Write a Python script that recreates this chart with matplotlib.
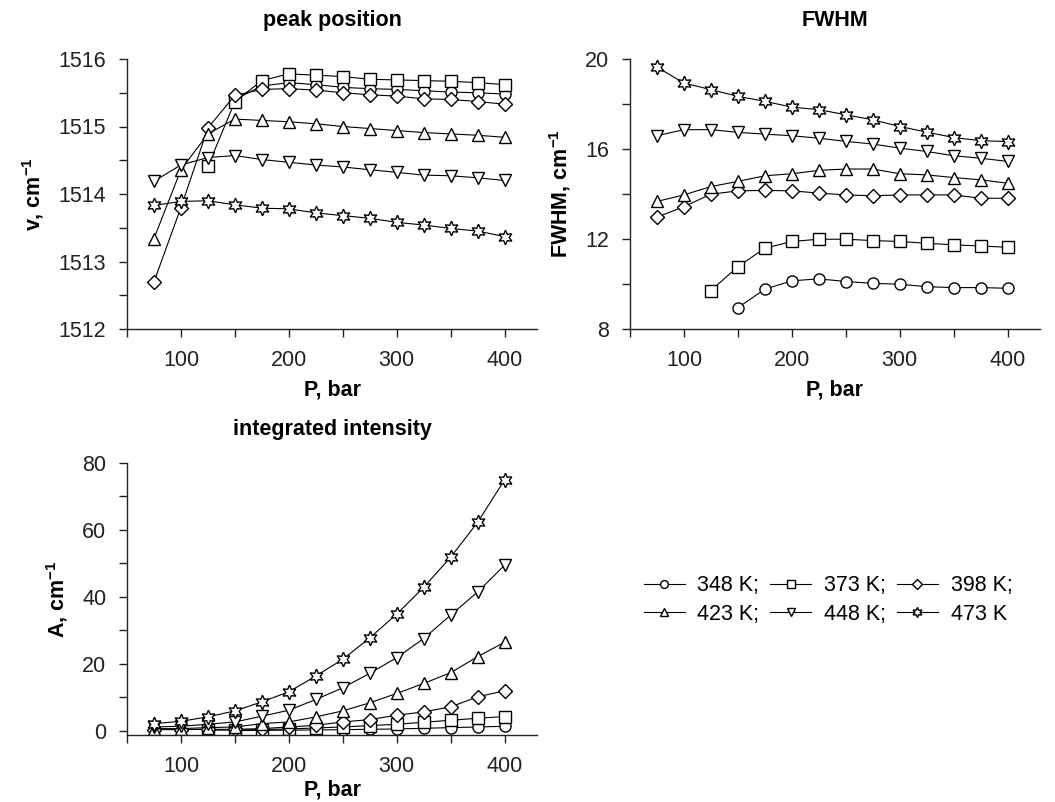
import numpy as np
import matplotlib
matplotlib.use("Agg")
import matplotlib.pyplot as plt

plt.rcParams['font.family'] = ['Liberation Sans', 'DejaVu Sans']
plt.rcParams['mathtext.fontset'] = 'custom'
plt.rcParams['mathtext.rm'] = 'Liberation Sans'
plt.rcParams['mathtext.bf'] = 'Liberation Sans:bold'

nan = np.nan

# pressure, bar
pressure = [75, 100, 125, 150, 175, 200, 225, 250, 275, 300, 325, 350, 375, 400]
temp_labels = ['348 K;', '373 K;', '398 K;', '423 K;', '448 K;', '473 K']

# peak position, cm-1
pos_348 = [nan, nan, nan, 1515.40, 1515.60, 1515.65, 1515.62, 1515.58, 1515.56, 1515.55, 1515.53, 1515.51, 1515.50, 1515.48]
pos_373 = [nan, nan, 1514.41, 1515.37, 1515.68, 1515.78, 1515.76, 1515.74, 1515.70, 1515.69, 1515.68, 1515.67, 1515.65, 1515.62]
pos_398 = [1512.70, 1513.80, 1514.98, 1515.46, 1515.55, 1515.56, 1515.54, 1515.50, 1515.47, 1515.45, 1515.41, 1515.40, 1515.37, 1515.33]
pos_423 = [1513.34, 1514.36, 1514.89, 1515.11, 1515.09, 1515.07, 1515.04, 1515.00, 1514.97, 1514.94, 1514.91, 1514.89, 1514.87, 1514.84]
pos_448 = [1514.19, 1514.43, 1514.54, 1514.57, 1514.51, 1514.47, 1514.43, 1514.40, 1514.36, 1514.32, 1514.28, 1514.27, 1514.24, 1514.20]
pos_473 = [1513.83, 1513.89, 1513.90, 1513.84, 1513.79, 1513.78, 1513.72, 1513.68, 1513.64, 1513.58, 1513.54, 1513.49, 1513.45, 1513.37]

# FWHM, cm-1
fwhm_348 = [nan, nan, nan, 8.95, 9.77, 10.14, 10.23, 10.11, 10.03, 9.99, 9.88, 9.84, 9.84, 9.81]
fwhm_373 = [nan, nan, 9.71, 10.77, 11.59, 11.89, 11.99, 11.99, 11.93, 11.89, 11.81, 11.74, 11.69, 11.63]
fwhm_398 = [12.97, 13.44, 13.99, 14.14, 14.16, 14.14, 14.04, 13.96, 13.92, 13.96, 13.96, 13.96, 13.81, 13.81]
fwhm_423 = [13.67, 13.96, 14.33, 14.56, 14.81, 14.90, 15.05, 15.11, 15.11, 14.90, 14.85, 14.73, 14.63, 14.48]
fwhm_448 = [16.59, 16.86, 16.86, 16.74, 16.66, 16.59, 16.48, 16.34, 16.22, 16.04, 15.89, 15.70, 15.59, 15.45]
fwhm_473 = [19.64, 18.93, 18.64, 18.34, 18.12, 17.86, 17.75, 17.52, 17.30, 17.00, 16.75, 16.51, 16.37, 16.33]

# integrated intensity, cm-1
area_348 = [nan, nan, nan, 0.1, 0.2, 0.25, 0.3, 0.4, 0.5, 0.6, 0.8, 1.0, 1.2, 1.4]
area_373 = [nan, nan, 0.2, 0.3, 0.4, 0.6, 0.9, 1.2, 1.6, 2.0, 2.6, 3.2, 3.8, 4.3]
area_398 = [0.4, 0.4, 0.5, 0.5, 0.7, 1.2, 1.7, 2.7, 3.4, 4.7, 5.7, 7.2, 10.2, 12.0]
area_423 = [0.7, 0.7, 1.0, 1.2, 2.2, 2.7, 4.2, 6.0, 8.4, 11.2, 14.2, 17.4, 22.2, 26.5]
area_448 = [1.2, 1.4, 2.0, 2.7, 4.4, 6.2, 9.4, 12.9, 17.2, 21.9, 27.6, 34.6, 41.5, 49.5]
area_473 = [2.2, 2.9, 4.2, 6.0, 8.7, 11.7, 16.4, 21.4, 27.8, 34.9, 42.9, 51.9, 62.3, 75.0]

positions = [pos_348, pos_373, pos_398, pos_423, pos_448, pos_473]
fwhms = [fwhm_348, fwhm_373, fwhm_398, fwhm_423, fwhm_448, fwhm_473]
areas = [area_348, area_373, area_398, area_423, area_448, area_473]

markers = ['o', 's', 'D', '^', 'v', (6, 1, 0)]
msizes = [8, 8, 7.5, 9, 9, 10.5]

W, H = 1055, 802
fig = plt.figure(figsize=(W / 100, H / 100), dpi=100)


def box(left, right, top, bottom):
    return [left / W, 1 - bottom / H, (right - left) / W, (bottom - top) / H]


ax1 = fig.add_axes(box(127, 537, 59, 329))
ax2 = fig.add_axes(box(630, 1040, 59, 329))
ax3 = fig.add_axes(box(127, 537, 463, 735))

fs = 15.5
ink = '#222222'


def draw(ax, series):
    lines = []
    for vals, m, ms in zip(series, markers, msizes):
        ln, = ax.plot(pressure, vals, color='black', lw=0.8, marker=m, markersize=ms,
                      markerfacecolor='white', markeredgecolor='black', markeredgewidth=1.0)
        lines.append(ln)
    return lines


def style(ax, ylim, ymajor, yminor, title, ylabel, title_pad, xlabelpad=6):
    ax.set_xlim(50, 430)
    ax.set_ylim(*ylim)
    ax.set_xticks([100, 200, 300, 400])
    ax.set_xticks([50, 150, 250, 350], minor=True)
    ax.set_yticks(ymajor)
    ax.set_yticks(yminor, minor=True)
    for s in ['top', 'right']:
        ax.spines[s].set_visible(False)
    for s in ['left', 'bottom']:
        ax.spines[s].set_color(ink)
        ax.spines[s].set_linewidth(1.0)
    ax.tick_params(which='both', direction='out', length=6, width=1, color=ink,
                   labelsize=fs, labelcolor=ink, pad=9)
    ax.set_title(title, fontsize=fs, fontweight='bold', pad=title_pad)
    ax.set_xlabel('P, bar', fontsize=fs, fontweight='bold', labelpad=xlabelpad)
    ax.set_ylabel(ylabel, fontsize=fs, fontweight='bold', labelpad=9)


lines = draw(ax1, positions)
draw(ax2, fwhms)
draw(ax3, areas)

style(ax1, (1512, 1516), [1512, 1513, 1514, 1515, 1516],
      np.arange(1512.5, 1516, 1.0), 'peak position', r'v, cm$^{\mathbf{-1}}$', 24)
style(ax2, (8, 20), [8, 12, 16, 20], [10, 14, 18], 'FWHM', r'FWHM, cm$^{\mathbf{-1}}$', 24)
style(ax3, (-1.2, 80), [0, 20, 40, 60, 80], [10, 30, 50, 70],
      'integrated intensity', r'A, cm$^{\mathbf{-1}}$', 20, xlabelpad=2)

# legend in two rows: 348/373/398 on top, 423/448/473 below
order = [0, 3, 1, 4, 2, 5]
fig.legend([lines[i] for i in order], [temp_labels[i] for i in order],
           ncol=3, loc='center', bbox_to_anchor=(828 / W, 1 - 600 / H),
           frameon=False, fontsize=fs, handlelength=1.9, handletextpad=0.6,
           columnspacing=0.5, labelspacing=0.35, markerscale=0.7)

fig.savefig('out.png', dpi=100)
